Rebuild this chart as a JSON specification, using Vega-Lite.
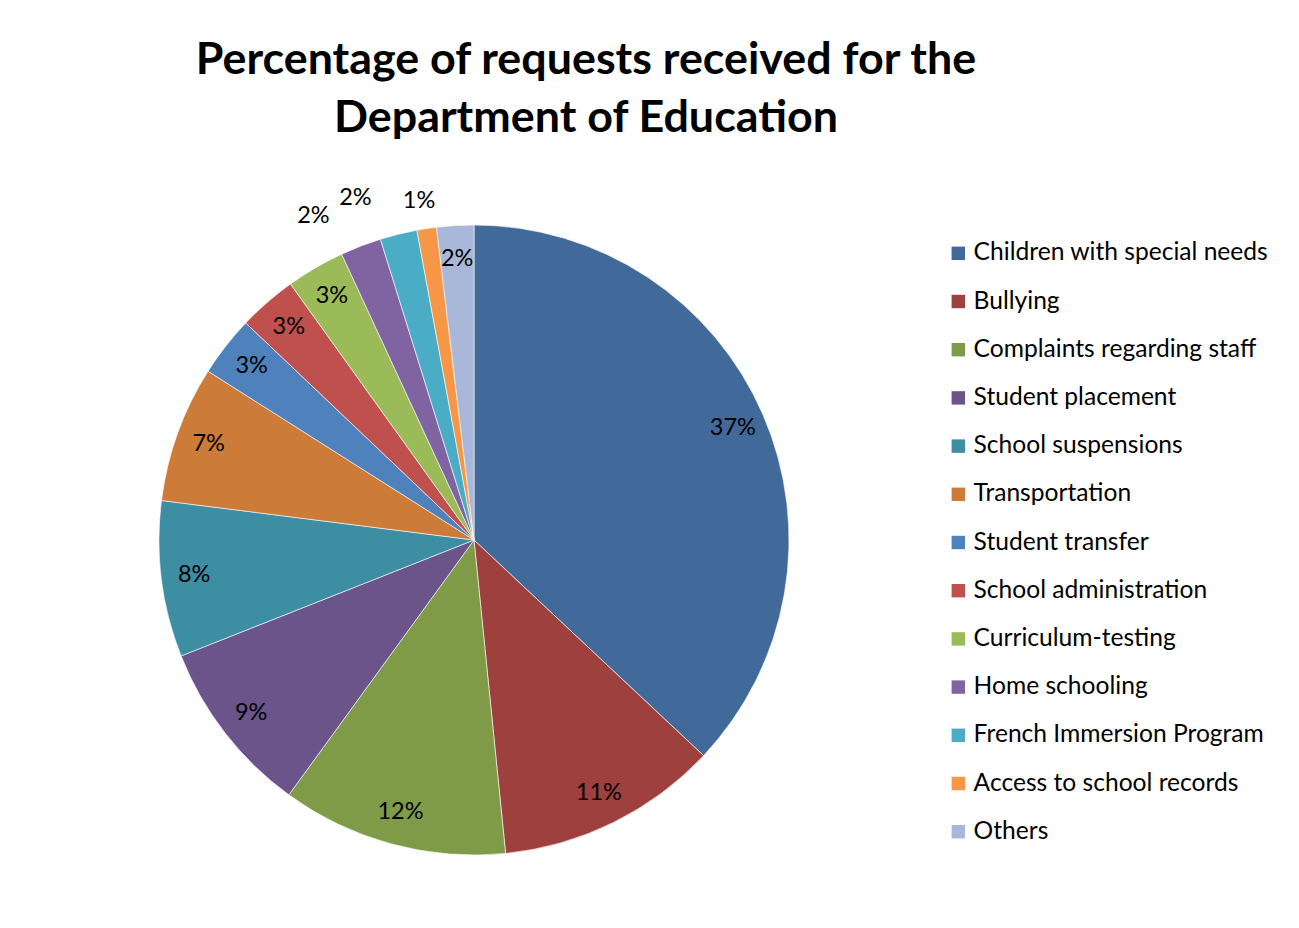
{
  "$schema": "https://vega.github.io/schema/vega-lite/v6.json",
  "autosize": "none",
  "width": 660,
  "height": 660,
  "padding": {"left": 144, "top": 210, "right": 495, "bottom": 58},
  "background": "white",
  "title": {
    "text": ["Percentage of requests received for the", "Department of Education"],
    "font": "Lato",
    "fontSize": 44.8,
    "fontWeight": "bold",
    "color": "#000000",
    "lineHeight": 58,
    "anchor": "middle",
    "limit": 1200,
    "dx": 112,
    "offset": 28
  },
  "config": {"view": {"stroke": null}},
  "data": {
    "values": [
      {"category": "Children with special needs", "value": 37, "label": "37%", "ord": 1},
      {"category": "Bullying", "value": 11.4, "label": "11%", "ord": 2},
      {"category": "Complaints regarding staff", "value": 11.6, "label": "12%", "ord": 3},
      {"category": "Student placement", "value": 9, "label": "9%", "ord": 4},
      {"category": "School suspensions", "value": 8, "label": "8%", "ord": 5},
      {"category": "Transportation", "value": 7, "label": "7%", "ord": 6},
      {"category": "Student transfer", "value": 3.1, "label": "3%", "ord": 7},
      {"category": "School administration", "value": 3, "label": "3%", "ord": 8},
      {"category": "Curriculum-testing", "value": 3, "label": "3%", "ord": 9},
      {"category": "Home schooling", "value": 2.1, "label": "2%", "ord": 10},
      {"category": "French Immersion Program", "value": 1.9, "label": "2%", "ord": 11},
      {"category": "Access to school records", "value": 1, "label": "1%", "ord": 12},
      {"category": "Others", "value": 1.9, "label": "2%", "ord": 13}
    ]
  },
  "layer": [
    {
      "mark": {"type": "arc", "outerRadius": 315, "stroke": "#ffffff", "strokeWidth": 0.6},
      "encoding": {
        "theta": {"field": "value", "type": "quantitative", "stack": true},
        "order": {"field": "ord", "type": "quantitative"},
        "color": {
          "field": "category",
          "type": "nominal",
          "scale": {
            "domain": ["Children with special needs", "Bullying", "Complaints regarding staff", "Student placement", "School suspensions", "Transportation", "Student transfer", "School administration", "Curriculum-testing", "Home schooling", "French Immersion Program", "Access to school records", "Others"],
            "range": ["#416A9B", "#9E413E", "#809B48", "#6A548A", "#3D8DA3", "#CC7B38", "#4F81BD", "#C0504D", "#9BBB59", "#8064A2", "#4BACC6", "#F79646", "#A9B8D8"]
          },
          "legend": {
            "title": null,
            "orient": "none",
            "legendX": 802,
            "legendY": 31,
            "symbolType": "square",
            "symbolSize": 180,
            "symbolStrokeWidth": 0,
            "labelFont": "Lato",
            "labelFontSize": 24.6,
            "labelColor": "#000000",
            "labelOffset": 3,
            "labelLimit": 400,
            "rowPadding": 23.2
          }
        }
      }
    },
    {
      "mark": {"type": "text", "radius": 282, "font": "Lato", "fontSize": 23.5, "fill": "#000000", "align": "center", "baseline": "middle"},
      "encoding": {
        "theta": {"field": "value", "type": "quantitative", "stack": true},
        "order": {"field": "ord", "type": "quantitative"},
        "text": {"field": "label"},
        "opacity": {"condition": {"test": "datum.ord >= 10 && datum.ord <= 12", "value": 0}, "value": 1}
      }
    },
    {
      "mark": {"type": "text", "radius": 362, "thetaOffset": -0.092, "font": "Lato", "fontSize": 23.5, "fill": "#000000", "align": "center", "baseline": "middle"},
      "encoding": {
        "theta": {"field": "value", "type": "quantitative", "stack": true},
        "order": {"field": "ord", "type": "quantitative"},
        "text": {"field": "label"},
        "opacity": {"condition": {"test": "datum.ord == 10 || datum.ord == 11", "value": 1}, "value": 0}
      }
    },
    {
      "mark": {"type": "text", "radius": 343, "thetaOffset": -0.01, "font": "Lato", "fontSize": 23.5, "fill": "#000000", "align": "center", "baseline": "middle"},
      "encoding": {
        "theta": {"field": "value", "type": "quantitative", "stack": true},
        "order": {"field": "ord", "type": "quantitative"},
        "text": {"field": "label"},
        "opacity": {"condition": {"test": "datum.ord == 12", "value": 1}, "value": 0}
      }
    }
  ]
}
